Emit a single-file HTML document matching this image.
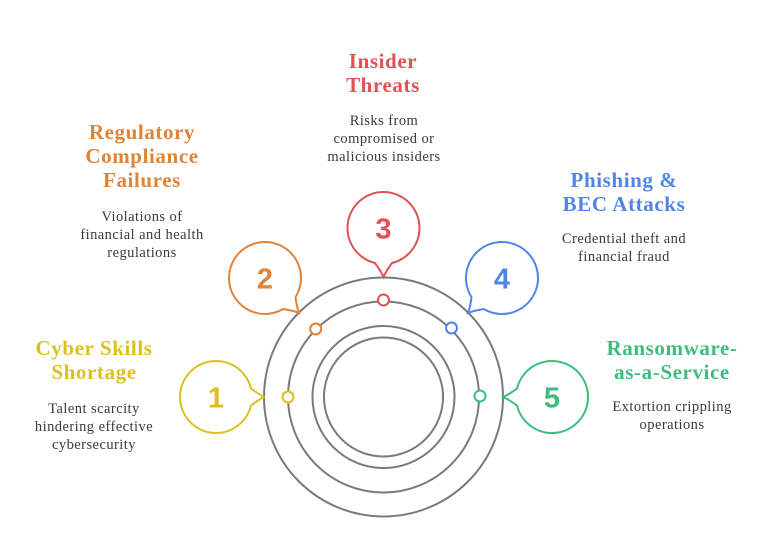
<!DOCTYPE html>
<html><head><meta charset="utf-8"><style>
html,body{margin:0;padding:0;background:#fff;}
body{width:769px;height:534px;overflow:hidden;position:relative;}
svg{position:absolute;left:0;top:0;}
.t{font-family:"Liberation Serif",serif;font-weight:bold;font-size:21px;letter-spacing:0.6px;text-anchor:middle;}
.b{font-family:"Liberation Serif",serif;font-size:14.5px;letter-spacing:0.45px;fill:#3a3a3a;text-anchor:middle;}
.n{font-family:"Liberation Sans",sans-serif;font-weight:bold;font-size:29px;text-anchor:middle;}
</style></head><body>
<svg id="s" width="769" height="534" viewBox="0 0 769 534">
<g fill="none" stroke="#7a7a7a" stroke-width="2">
<circle cx="383.5" cy="397" r="119.5"/>
<circle cx="383.5" cy="397" r="95.5"/>
<circle cx="383.5" cy="397" r="71"/>
<circle cx="383.5" cy="397" r="59.5"/>
</g>
<g id="bub"></g>
<text class="t" fill="#e05252" x="383" y="68">Insider</text>
<text class="t" fill="#e05252" x="383" y="92">Threats</text>
<text class="b" x="384" y="125">Risks from</text>
<text class="b" x="384" y="143">compromised or</text>
<text class="b" x="384" y="161">malicious insiders</text>
<text class="t" fill="#e08334" x="142" y="139">Regulatory</text>
<text class="t" fill="#e08334" x="142" y="163">Compliance</text>
<text class="t" fill="#e08334" x="142" y="187">Failures</text>
<text class="b" x="142" y="221">Violations of</text>
<text class="b" x="142" y="239">financial and health</text>
<text class="b" x="142" y="257">regulations</text>
<text class="t" fill="#4f86e6" x="624" y="187">Phishing &amp;</text>
<text class="t" fill="#4f86e6" x="624" y="211">BEC Attacks</text>
<text class="b" x="624" y="243">Credential theft and</text>
<text class="b" x="624" y="261">financial fraud</text>
<text class="t" fill="#dcc01c" x="94" y="355">Cyber Skills</text>
<text class="t" fill="#dcc01c" x="94" y="379">Shortage</text>
<text class="b" x="94" y="413">Talent scarcity</text>
<text class="b" x="94" y="431">hindering effective</text>
<text class="b" x="94" y="449">cybersecurity</text>
<text class="t" fill="#3dbd7d" x="672" y="355">Ransomware-</text>
<text class="t" fill="#3dbd7d" x="672" y="379">as-a-Service</text>
<text class="b" x="672" y="411">Extortion crippling</text>
<text class="b" x="672" y="429">operations</text>
</svg>
<script>
var g=document.getElementById('bub'),ns='http://www.w3.org/2000/svg';
var B=[
 {c:'#dcc01c',x:216,y:397,tx:264,ty:397,d:[288,397],n:'1'},
 {c:'#e08334',x:265,y:278,tx:299,ty:313,d:[315.7,329],n:'2'},
 {c:'#e05252',x:383.5,y:228,tx:383.5,ty:277,d:[383.5,300],n:'3'},
 {c:'#4f86e6',x:502,y:278,tx:468,ty:313,d:[451.5,328],n:'4'},
 {c:'#3dbd7d',x:552,y:397,tx:503,ty:397,d:[480,396],n:'5'}];
B.forEach(function(b){
 var r=36,a=Math.atan2(b.ty-b.y,b.tx-b.x),da=0.24;
 var p1=[b.x+r*Math.cos(a-da),b.y+r*Math.sin(a-da)],p2=[b.x+r*Math.cos(a+da),b.y+r*Math.sin(a+da)];
 var m1=[b.x+(r+7)*Math.cos(a-0.06),b.y+(r+7)*Math.sin(a-0.06)],m2=[b.x+(r+7)*Math.cos(a+0.06),b.y+(r+7)*Math.sin(a+0.06)];
 var d='M'+p2[0]+','+p2[1]+' A'+r+','+r+' 0 1 1 '+p1[0]+','+p1[1]+' Q'+m1[0]+','+m1[1]+' '+b.tx+','+b.ty+' Q'+m2[0]+','+m2[1]+' '+p2[0]+','+p2[1]+'Z';
 var p=document.createElementNS(ns,'path');p.setAttribute('d',d);p.setAttribute('fill','#fff');p.setAttribute('stroke',b.c);p.setAttribute('stroke-width','2');g.appendChild(p);
 var c=document.createElementNS(ns,'circle');c.setAttribute('cx',b.d[0]);c.setAttribute('cy',b.d[1]);c.setAttribute('r','5.5');c.setAttribute('fill','#fff');c.setAttribute('stroke',b.c);c.setAttribute('stroke-width','2');g.appendChild(c);
 var t=document.createElementNS(ns,'text');t.setAttribute('class','n');t.setAttribute('x',b.x);t.setAttribute('y',b.y+10.5);t.setAttribute('fill',b.c);t.textContent=b.n;g.appendChild(t);
});
</script>
</body></html>
